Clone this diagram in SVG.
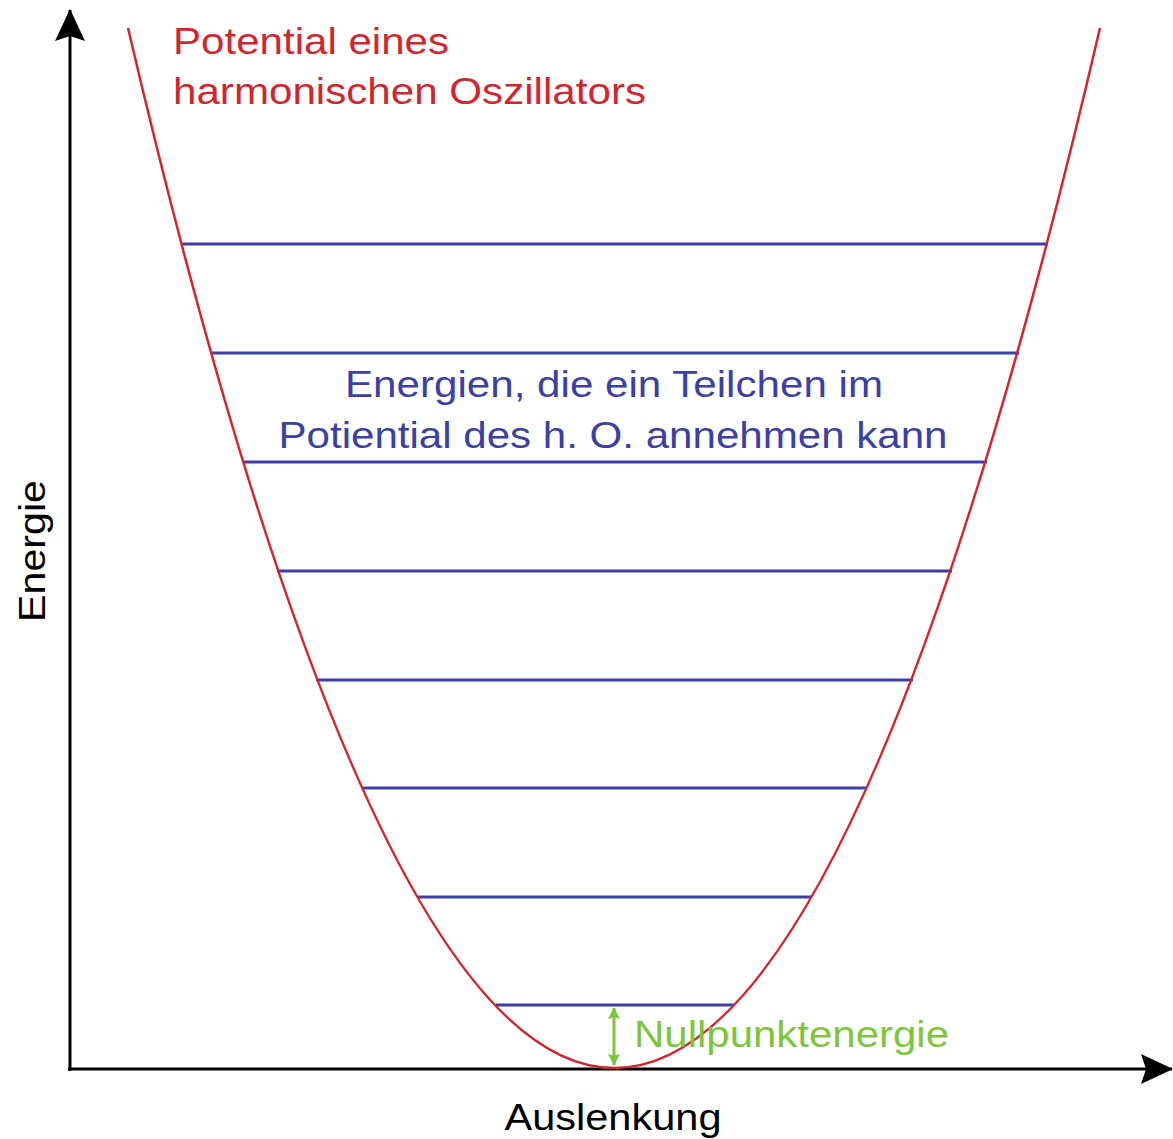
<svg xmlns="http://www.w3.org/2000/svg" width="1173" height="1139" viewBox="0 0 1173 1139">
<defs>
<style>
text{font-family:"Liberation Sans",Arial,sans-serif;font-size:37px}
.lvl{stroke:#3b40a4;stroke-width:3;fill:none}
.ax{stroke:#000;stroke-width:3;fill:none}
.red{fill:#d0262e}
.blue{fill:#3b40a4}
.green{fill:#7dc63b}
</style>
<marker id="ah" viewBox="0 0 32 30" refX="31" refY="15" markerWidth="32" markerHeight="30" markerUnits="userSpaceOnUse" orient="auto"><path d="M0,0 L32,15 L0,30 L5,15 Z" fill="#000"/></marker>
<marker id="ga" viewBox="0 0 12 12" refX="11" refY="6" markerWidth="12" markerHeight="12" markerUnits="userSpaceOnUse" orient="auto-start-reverse"><path d="M0,0 L12,6 L0,12 L2,6 Z" fill="#7dc63b"/></marker>
</defs>
<rect width="1173" height="1139" fill="#fff"/>
<g id="connectors">
<line class="ax" x1="70" y1="1071" x2="70" y2="10" marker-end="url(#ah)"/>
<line class="ax" x1="68" y1="1069" x2="1172" y2="1069" marker-end="url(#ah)"/>
</g>
<g id="levels">
<line class="lvl" x1="181" y1="244" x2="1048" y2="244"/>
<line class="lvl" x1="211" y1="353" x2="1019" y2="353"/>
<line class="lvl" x1="243" y1="462" x2="987" y2="462"/>
<line class="lvl" x1="277" y1="571" x2="952" y2="571"/>
<line class="lvl" x1="316" y1="680" x2="913" y2="680"/>
<line class="lvl" x1="362" y1="788" x2="867" y2="788"/>
<line class="lvl" x1="418" y1="897" x2="811" y2="897"/>
<line class="lvl" x1="496" y1="1005" x2="734" y2="1005"/>
</g>
<g id="potential">
<path d="M128,28 Q615,2108 1100,28" fill="none" stroke="#d0262e" stroke-width="2.5"/>
<text class="red" x="173" y="54" textLength="276" lengthAdjust="spacingAndGlyphs">Potential eines</text>
<text class="red" x="173" y="104" textLength="473" lengthAdjust="spacingAndGlyphs">harmonischen Oszillators</text>
</g>
<g id="energies-label">
<text class="blue" x="614" y="397" text-anchor="middle" textLength="538" lengthAdjust="spacingAndGlyphs">Energien, die ein Teilchen im</text>
<text class="blue" x="613" y="448" text-anchor="middle" textLength="669" lengthAdjust="spacingAndGlyphs">Potiential des h. O. annehmen kann</text>
</g>
<g id="nullpunkt">
<line x1="614" y1="1008" x2="614" y2="1065" stroke="#7dc63b" stroke-width="3" marker-start="url(#ga)" marker-end="url(#ga)"/>
<text class="green" x="634" y="1047" textLength="315" lengthAdjust="spacingAndGlyphs">Nullpunktenergie</text>
</g>
<g id="axis-labels">
<text x="613" y="1130" text-anchor="middle" fill="#000" textLength="217" lengthAdjust="spacingAndGlyphs">Auslenkung</text>
<text transform="translate(45,551) rotate(-90)" text-anchor="middle" fill="#000" textLength="142" lengthAdjust="spacingAndGlyphs">Energie</text>
</g>
</svg>
